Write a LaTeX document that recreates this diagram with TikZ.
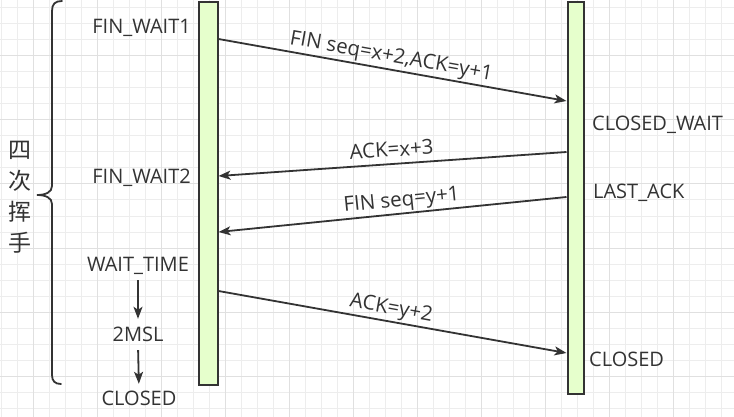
\documentclass[tikz,border=0pt]{standalone}
\usepackage{fontspec}
\setmainfont{Open Sans}
\newfontfamily\cjk{Noto Sans CJK SC}
\usetikzlibrary{arrows.meta}
\definecolor{gridminor}{HTML}{EDEDED}
\definecolor{gridmajor}{HTML}{E0E0E0}
\definecolor{barfill}{HTML}{E6FFCC}
\definecolor{ink}{HTML}{333333}
\begin{document}
\begin{tikzpicture}[x=1pt,y=-1pt,
  bar/.style={draw=ink, fill=barfill, line width=2pt, inner sep=0pt, anchor=north west},
  state/.style={font=\fontsize{20}{22}\selectfont, text=ink, inner sep=0pt, text height=14.5pt, text depth=4.5pt},
  conn/.style={draw=ink, line width=1.8pt, -{Stealth[length=12pt,width=9pt,inset=3pt]}},
  lab/.style={font=\fontsize{20.5}{22}\selectfont, text=ink, inner sep=0pt, text height=14.5pt, text depth=4.5pt, sloped, above=2pt},
  brace/.style={draw=ink, line width=1.8pt, line cap=round}]
\useasboundingbox (0,0) rectangle (734,417);
\fill[white] (0,0) rectangle (734,417);
% grid
\foreach \gx in {1,17,...,733} \draw[gridminor, line width=1pt] (\gx,0) -- (\gx,417);
\foreach \gy in {8,24,...,408} \draw[gridminor, line width=1pt] (0,\gy) -- (734,\gy);
\foreach \gx in {33,97,...,673} \draw[gridmajor, line width=1pt] (\gx,0) -- (\gx,417);
\foreach \gy in {56,120,...,376} \draw[gridmajor, line width=1pt] (0,\gy) -- (734,\gy);
% lifelines
\node[bar, minimum width=19pt, minimum height=382.5pt] (L) at (197.5,1) {};
\node[bar, minimum width=16.5pt, minimum height=391.5pt] (R) at (566.5,1) {};
% state labels
\node[state, anchor=base east] (fw1) at (191,34) {FIN\_WAIT1};
\node[state, anchor=base east] (fw2) at (191,183) {FIN\_WAIT2};
\node[state, anchor=base] (wt) at (138,271) {WAIT\_TIME};
\node[state, anchor=base] (msl) at (138,341) {2MSL};
\node[state, anchor=base] (cl) at (139,405) {CLOSED};
\node[state, anchor=base west] (cw) at (592,131) {CLOSED\_WAIT};
\node[state, anchor=base west] (la) at (593,199) {LAST\_ACK};
\node[state, anchor=base west] (cr) at (589,366) {CLOSED};
% brace and caption
\draw[brace] (62,1) .. controls (55,1) and (52,4) .. (52,11) -- (52,186)
  .. controls (52,192) and (46,195) .. (37,195)
  .. controls (46,195) and (52,198) .. (52,204) -- (52,375)
  .. controls (52,381) and (55,384) .. (61,384);
\node[font=\cjk\fontsize{23}{31}\selectfont, text=ink, align=center, inner sep=0pt] (hs) at (20.5,197) {四\\次\\挥\\手};
% messages
\draw[conn] (L.east |- 0,39) -- node[lab, pos=0.49] {FIN seq=x+2,ACK=y+1} (R.west |- 0,101);
\draw[conn] (R.west |- 0,152) -- node[lab, pos=0.5] {ACK=x+3} (L.east |- 0,176);
\draw[conn] (R.west |- 0,197) -- node[lab, pos=0.47] {FIN seq=y+1} (L.east |- 0,232);
\draw[conn] (L.east |- 0,291) -- node[lab, pos=0.49] {ACK=y+2} (R.west |- 0,353);
% timer arrows
\draw[conn, shorten <=4.5pt, shorten >=7.5pt] (wt.south) -- (msl.north);
\draw[conn, shorten <=4.5pt, shorten >=6.5pt] (msl.south) -- (cl.north);
\end{tikzpicture}
\end{document}
